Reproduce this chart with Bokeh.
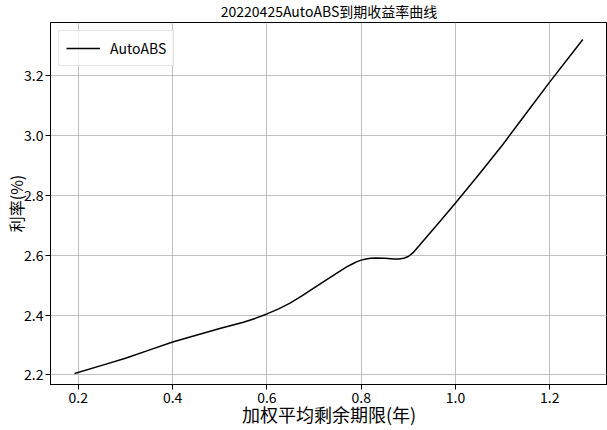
from bokeh.plotting import figure
from bokeh.models import Range1d, FixedTicker, Legend, LegendItem, PrintfTickFormatter
from bokeh.embed import file_html
from bokeh.resources import INLINE

title_text = "20220425AutoABS到期收益率曲线"
x_label = "加权平均剩余期限(年)"
y_label = "利率(%)"
series_name = "AutoABS"

term = [0.192, 0.25, 0.30, 0.35, 0.40, 0.45, 0.50, 0.55, 0.575, 0.60, 0.625, 0.65,
        0.675, 0.70, 0.75, 0.77, 0.78, 0.79, 0.80, 0.81, 0.82, 0.83, 0.85, 0.87,
        0.88, 0.89, 0.90, 0.91, 0.92, 0.94, 0.97, 1.00, 1.05, 1.10, 1.15, 1.20, 1.27]
rate = [2.205, 2.232, 2.256, 2.283, 2.310, 2.333, 2.355, 2.376, 2.389, 2.404, 2.421, 2.441,
        2.465, 2.491, 2.542, 2.562, 2.570, 2.578, 2.584, 2.588, 2.590, 2.591, 2.590, 2.588,
        2.588, 2.590, 2.596, 2.609, 2.627, 2.664, 2.719, 2.775, 2.871, 2.970, 3.075, 3.180, 3.322]

x_ticks = [0.2, 0.4, 0.6, 0.8, 1.0, 1.2]
y_ticks = [2.2, 2.4, 2.6, 2.8, 3.0, 3.2]

FONT = "Noto Sans CJK SC"

# layout (pixels)
W, H = 607, 430
B_LEFT, B_RIGHT, B_TOP, B_BOTTOM = 50, 0, 19, 46
PX_X, PX_Y = 471.5, 301.5           # pixels per data unit
x0, y0 = 0.141, 2.168
x1 = x0 + (W - B_LEFT - B_RIGHT) / PX_X
y1 = y0 + (H - B_TOP - B_BOTTOM) / PX_Y

p = figure(width=W, height=H, output_backend="svg", toolbar_location=None,
           x_range=Range1d(x0, x1), y_range=Range1d(y0, y1),
           min_border_left=B_LEFT, min_border_right=B_RIGHT,
           min_border_bottom=B_BOTTOM, min_border_top=B_TOP)

p.title.text = title_text
p.title.align = "center"
p.title.vertical_align = "top"
p.title.text_font = FONT
p.title.text_font_size = "14px"
p.title.text_font_style = "normal"
p.title.text_color = "black"
p.title.standoff = 0
p.title.offset = 0

r = p.line(term, rate, line_color="black", line_width=1.5, line_join="round")

p.xaxis.ticker = FixedTicker(ticks=x_ticks)
p.yaxis.ticker = FixedTicker(ticks=y_ticks)
p.xaxis.axis_label = x_label
p.yaxis.axis_label = y_label
for ax in (p.xaxis, p.yaxis):
    ax.formatter = PrintfTickFormatter(format="%.1f")
    ax.major_label_text_font = FONT
    ax.major_label_text_font_size = "14px"
    ax.major_label_text_color = "black"
    ax.axis_label_text_font = FONT
    ax.axis_label_text_font_style = "normal"
    ax.axis_label_text_color = "black"
    ax.axis_line_color = "black"
    ax.major_tick_line_color = "black"
    ax.major_tick_out = 5
    ax.major_tick_in = 0
    ax.minor_tick_line_color = None
    ax.major_label_standoff = 2
p.xaxis.axis_label_text_font_size = "18px"
p.yaxis.axis_label_text_font_size = "16px"
p.xaxis.axis_label_standoff = -5
p.yaxis.axis_label_standoff = -7
p.yaxis.major_label_orientation = "horizontal"

p.grid.grid_line_color = "#b0b0b0"
p.grid.grid_line_width = 0.8
p.outline_line_color = "black"
p.outline_line_width = 1
p.background_fill_color = "white"
p.border_fill_color = "white"

legend = Legend(items=[LegendItem(label=series_name, renderers=[r])], location="top_left")
legend.label_text_font = FONT
legend.label_text_font_size = "14px"
legend.label_text_color = "black"
legend.glyph_width = 34
legend.label_standoff = 10
legend.border_line_color = "#cccccc"
legend.border_line_width = 1
legend.margin = 8
legend.padding = 7
legend.background_fill_alpha = 0.8
p.add_layout(legend)

open("out.html", "w").write(file_html(p, INLINE))
